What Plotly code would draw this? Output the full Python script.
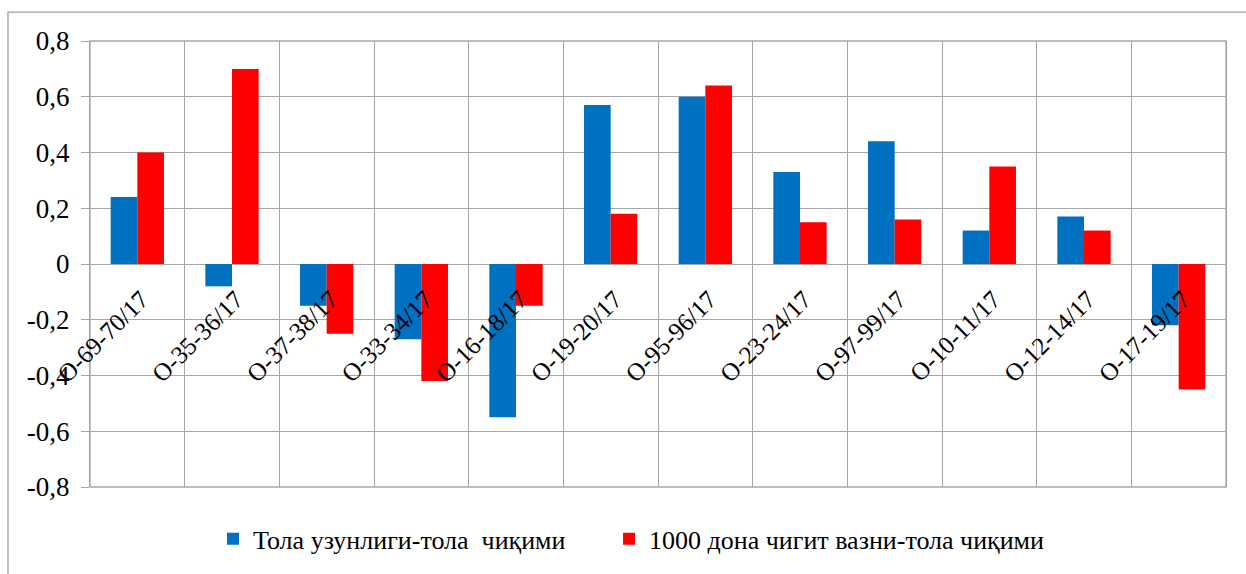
import plotly.graph_objects as go

categories = ["O-69-70/17", "O-35-36/17", "O-37-38/17", "O-33-34/17", "O-16-18/17",
              "O-19-20/17", "O-95-96/17", "O-23-24/17", "O-97-99/17", "O-10-11/17",
              "O-12-14/17", "O-17-19/17"]
series1_name = "Тола узунлиги-тола\u00a0 чиқими"
series1 = [0.24, -0.08, -0.15, -0.27, -0.55, 0.57, 0.60, 0.33, 0.44, 0.12, 0.17, -0.22]
series2_name = "1000 дона чигит вазни-тола чиқими"
series2 = [0.40, 0.70, -0.25, -0.42, -0.15, 0.18, 0.64, 0.15, 0.16, 0.35, 0.12, -0.45]
y_ticks = [-0.8, -0.6, -0.4, -0.2, 0, 0.2, 0.4, 0.6, 0.8]
y_ticktext = ["-0,8", "-0,6", "-0,4", "-0,2", "0", "0,2", "0,4", "0,6", "0,8"]

FONT = "Liberation Serif"
GRID = "#A6A6A6"

fig = go.Figure()
fig.add_trace(go.Bar(x=categories, y=series1, name=series1_name, legend="legend",
                     marker=dict(color="#0070C0", line=dict(width=0))))
fig.add_trace(go.Bar(x=categories, y=series2, name=series2_name, legend="legend2",
                     marker=dict(color="#FF0000", line=dict(width=0))))

legend_font = dict(family=FONT, size=26, color="black")

fig.update_layout(
    width=1246, height=574,
    margin=dict(l=90, r=20, t=41, b=85),
    paper_bgcolor="white", plot_bgcolor="white",
    barmode="group", bargap=0.437, bargroupgap=0,
    font=dict(family=FONT, size=26, color="black"),
    showlegend=True,
    legend=dict(orientation="h", x=0.1083, xanchor="left", y=-0.116, yanchor="middle",
                font=legend_font),
    legend2=dict(orientation="h", x=0.4569, xanchor="left", y=-0.116, yanchor="middle",
                 font=legend_font),
    xaxis=dict(type="category", anchor="free", position=0.4665,
               showgrid=True, gridcolor=GRID, gridwidth=1.3, tickson="boundaries",
               ticks="", showline=False, zeroline=False, tickangle=-45,
               ticklabelshift=4,
               tickfont=dict(family=FONT, size=25, color="black")),
    yaxis=dict(range=[-0.8, 0.8], tickvals=y_ticks, ticktext=y_ticktext,
               showgrid=True, gridcolor=GRID, gridwidth=1.3, zeroline=False,
               showline=True, linecolor=GRID, linewidth=1.3, mirror=True,
               ticks="outside", ticklen=8, tickcolor=GRID, tickwidth=1.3,
               ticklabelstandoff=6,
               tickfont=dict(family=FONT, size=27, color="black")),
    shapes=[
        dict(type="rect", xref="paper", yref="paper", x0=0, x1=1, y0=0, y1=1,
             line=dict(color=GRID, width=1.3), layer="below"),
        dict(type="rect", xref="paper", yref="paper", x0=-0.0722, x1=1.05,
             y0=-0.3, y1=1.0647, line=dict(color="#A0A0A0", width=1.3), layer="below"),
    ],
)

fig.write_html("out.html")
